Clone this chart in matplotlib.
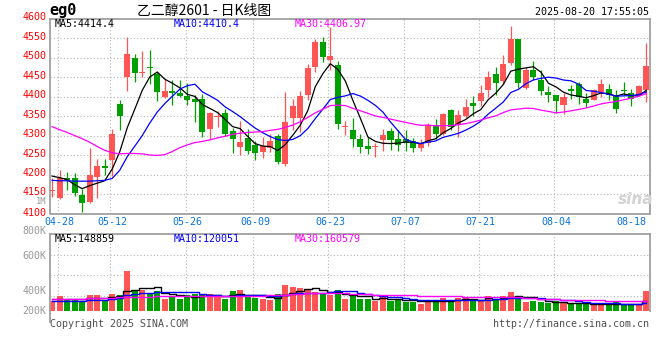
import numpy as np
import pandas as pd
import matplotlib
matplotlib.use('Agg')
import matplotlib.pyplot as plt
from matplotlib import transforms
from matplotlib.lines import Line2D

plt.rcParams['font.family'] = ['DejaVu Sans Mono', 'Noto Sans CJK SC']

# daily bars, 2025-04-25 .. 2025-08-20 (eg2601)
opens = [4158, 4140, 4191, 4190, 4147, 4130, 4194, 4221, 4237, 4381,
         4450, 4500, 4460, 4477, 4459, 4399, 4415, 4409, 4401, 4393,
         4393, 4318, 4347, 4359, 4311, 4271, 4294, 4277, 4258, 4269,
         4299, 4228, 4345, 4345, 4403, 4476, 4541, 4493, 4480, 4322,
         4314, 4290, 4273, 4270, 4288, 4311, 4291, 4291, 4286, 4268,
         4280, 4327, 4303, 4365, 4327, 4350, 4383, 4388, 4416, 4459,
         4439, 4486, 4547, 4422, 4469, 4442, 4412, 4403, 4378, 4419,
         4431, 4395, 4392, 4412, 4419, 4403, 4416, 4408, 4405, 4416]
highs = [4190, 4211, 4207, 4203, 4164, 4267, 4241, 4240, 4318, 4390,
         4554, 4508, 4518, 4520, 4463, 4448, 4442, 4443, 4435, 4403,
         4406, 4360, 4362, 4367, 4320, 4337, 4318, 4286, 4297, 4304,
         4303, 4412, 4395, 4414, 4484, 4548, 4553, 4578, 4490, 4337,
         4344, 4304, 4297, 4280, 4318, 4320, 4314, 4313, 4294, 4291,
         4333, 4342, 4359, 4367, 4365, 4395, 4401, 4429, 4465, 4476,
         4506, 4582, 4547, 4476, 4490, 4469, 4426, 4405, 4408, 4429,
         4437, 4410, 4419, 4446, 4433, 4416, 4437, 4420, 4429, 4537]
lows = [4143, 4138, 4160, 4145, 4103, 4128, 4140, 4200, 4195, 4313,
        4413, 4437, 4450, 4431, 4388, 4396, 4378, 4399, 4379, 4335,
        4297, 4291, 4322, 4299, 4254, 4250, 4252, 4237, 4243, 4258,
        4228, 4222, 4314, 4310, 4391, 4463, 4489, 4467, 4316, 4301,
        4271, 4254, 4252, 4246, 4260, 4263, 4260, 4260, 4257, 4260,
        4273, 4291, 4301, 4314, 4297, 4344, 4350, 4376, 4399, 4403,
        4433, 4480, 4422, 4420, 4442, 4403, 4386, 4359, 4354, 4395,
        4382, 4373, 4391, 4399, 4391, 4359, 4403, 4376, 4402, 4385]
closes = [4161, 4190, 4187, 4153, 4128, 4199, 4222, 4218, 4303, 4349,
          4508, 4460, 4461, 4474, 4412, 4415, 4409, 4401, 4391, 4386,
          4310, 4359, 4349, 4305, 4292, 4284, 4260, 4256, 4273, 4286,
          4233, 4335, 4376, 4402, 4473, 4541, 4501, 4504, 4329, 4324,
          4292, 4271, 4265, 4272, 4301, 4288, 4277, 4280, 4267, 4282,
          4327, 4303, 4356, 4322, 4352, 4373, 4376, 4410, 4450, 4435,
          4484, 4547, 4435, 4467, 4450, 4414, 4405, 4388, 4399, 4414,
          4399, 4384, 4416, 4433, 4405, 4367, 4413, 4395, 4427, 4478]
# volume, thousands of lots
volumes = [153, 198, 158, 158, 150, 205, 205, 150, 213, 209,
           443, 246, 258, 231, 246, 168, 200, 168, 205, 212,
           212, 215, 190, 168, 246, 256, 190, 180, 168, 158,
           212, 304, 288, 278, 265, 239, 212, 210, 255, 168,
           207, 168, 168, 148, 185, 148, 168, 142, 142, 119,
           158, 158, 181, 135, 181, 174, 168, 148, 200, 158,
           200, 239, 200, 135, 148, 135, 125, 148, 125, 125,
           132, 116, 116, 109, 109, 148, 109, 116, 109, 249]

# MA values at the left edge (need bars before the window)
ma5_head = [4196, 4192, 4187, 4174]
ma10_head = [4185, 4184, 4184, 4183, 4183, 4183, 4184, 4185, 4190]
ma30_head = [4323, 4315, 4308, 4300, 4292, 4283, 4272, 4262, 4256, 4253,
             4254, 4254, 4253, 4250, 4249, 4251, 4259, 4269, 4276, 4282,
             4285, 4289, 4294, 4298, 4303, 4306, 4308, 4309, 4310]
vma5_head = [165, 168, 165, 164]
vma10_head = [152, 152, 152, 152, 153, 155, 158, 162, 170]
vma30_head = [168, 169, 170, 171, 172, 174, 176, 178, 181, 184,
              188, 190, 191, 192, 193, 193, 194, 195, 195, 196,
              196, 197, 197, 197, 197, 197, 197, 197, 197]

tick_idx = [1, 8, 18, 27, 37, 47, 57, 67, 77]
tick_lbl = ['04-28', '05-12', '05-26', '06-09', '06-23', '07-07', '07-21', '08-04', '08-18']

RED = '#ff5555'
GREEN = '#00a000'
FRAME = '#a0a0a0'
GRID = '#b4b4b4'


def moving_avg(vals, n, head):
    m = pd.Series(vals, dtype=float).rolling(n).mean().to_numpy()
    m[:n - 1] = head
    return m


def px(x, y):
    return x / 660, 1 - y / 360


o = np.array(opens)
h = np.array(highs)
l = np.array(lows)
c = np.array(closes)
v = np.array(volumes)
x = np.arange(len(c))
cols = np.where(c >= o, RED, GREEN)

fig = plt.figure(figsize=(6.6, 3.6), dpi=100)
ax = fig.add_axes([50 / 660, 1 - 213.5 / 360, 600 / 660, 194.9 / 360])
axv = fig.add_axes([50 / 660, 1 - 311 / 360, 600 / 660, 76.7 / 360])

for a in (ax, axv):
    a.set_xlim(-0.27, 79.5)
    for s in a.spines.values():
        s.set_color(FRAME)
        s.set_linewidth(1.3)
    a.tick_params(length=0, labelsize=7.2, pad=2.5)
    for t in tick_idx[:-1]:
        a.axvline(t - 0.25, color=GRID, lw=0.8, ls=(0, (1, 2)), zorder=0)

# price panel
ax.set_ylim(4100, 4600)
ax.set_yticks(np.arange(4100, 4601, 50))
ax.tick_params(axis='y', colors='red', labelcolor='red')
for y in range(4150, 4600, 50):
    ax.axhline(y, color=GRID, lw=0.8, ls=(0, (1, 2)), zorder=0)
# labels sit a little above their grid lines
for i, lb in enumerate(ax.get_yticklabels()):
    up = {0: 1.2, 1: 3.0}.get(i, 2.5)
    lb.set_transform(lb.get_transform() +
                     transforms.ScaledTranslation(0, up / 100, fig.dpi_scale_trans))
ax.set_xticks(tick_idx)
ax.set_xticklabels(tick_lbl, color='#0a74da')

ax.vlines(x, l, h, colors=cols, lw=0.9, zorder=2)
ax.bar(x, np.maximum(np.abs(c - o), 2.6), bottom=np.minimum(o, c),
       width=0.8, color=cols, lw=0, zorder=3)
ax.plot(x, moving_avg(c, 5, ma5_head), color='black', lw=0.9, zorder=4)
ax.plot(x, moving_avg(c, 10, ma10_head), color='blue', lw=0.9, zorder=4)
ax.plot(x, moving_avg(c, 30, ma30_head), color='#ff00ff', lw=0.9, zorder=4)

# volume panel
axv.set_ylim(50.5, 800)
axv.set_yticks([])
axv.set_xticks([])
axv.spines['bottom'].set_visible(False)
for y in (600, 400, 200, 50.5):
    axv.axhline(y, color=GRID, lw=0.8, ls=(0, (1, 2)), zorder=0)
axv.bar(x, v, width=0.8, color=cols, lw=0, zorder=2)
axv.plot(x, moving_avg(v, 5, vma5_head), color='black', lw=1.0, drawstyle='steps-mid', zorder=4)
axv.plot(x, moving_avg(v, 10, vma10_head), color='blue', lw=1.0, drawstyle='steps-mid', zorder=4)
axv.plot(x, moving_avg(v, 30, vma30_head), color='#ff00ff', lw=1.0, drawstyle='steps-mid', zorder=4)
fig.add_artist(Line2D([50 / 660, 50 / 660], [1 - 311 / 360, 1 - 322 / 360], color=FRAME, lw=1.3))

# texts
fig.text(*px(49, 11), 'eg0', ha='left', va='center', fontsize=11, fontweight='bold')
fig.text(*px(137, 10.5), '乙二醇2601 - 日K线图', ha='left', va='center', fontsize=10,
         family=['Noto Sans CJK SC', 'DejaVu Sans'])
fig.text(*px(649, 11.7), '2025-08-20 17:55:05', ha='right', va='center', fontsize=7.2)

fig.text(*px(55, 24), 'MA5:4414.4', ha='left', va='center', fontsize=7.2, color='black')
fig.text(*px(174, 24), 'MA10:4410.4', ha='left', va='center', fontsize=7.2, color='blue')
fig.text(*px(295, 24), 'MA30:4406.97', ha='left', va='center', fontsize=7.2, color='#ff00ff')

fig.text(*px(46.5, 201.6), '1M', ha='right', va='center', fontsize=6.3, color='#9a9a9a')
for lbl, yy in [('800K', 231), ('600K', 255.7), ('400K', 290.7), ('200K', 311)]:
    fig.text(*px(46.5, yy), lbl, ha='right', va='center', fontsize=7.2, color='#9a9a9a')

fig.text(*px(55, 238.5), 'MA5:148859', ha='left', va='center', fontsize=7.2, color='black')
fig.text(*px(174, 238.5), 'MA10:120051', ha='left', va='center', fontsize=7.2, color='blue')
fig.text(*px(295, 238.5), 'MA30:160579', ha='left', va='center', fontsize=7.2, color='#ff00ff')

fig.text(*px(50, 324), 'Copyright 2025 SINA.COM', ha='left', va='center', fontsize=7.2, color='#505050')
fig.text(*px(649, 324), 'http://finance.sina.com.cn', ha='right', va='center', fontsize=7.2, color='#505050')

fig.text(*px(636, 200), 'sina', ha='center', va='center', fontsize=11, style='italic',
         fontweight='bold', family='DejaVu Sans', color='#d2d2d2')

fig.savefig('out.png', dpi=100)
plt.close(fig)
